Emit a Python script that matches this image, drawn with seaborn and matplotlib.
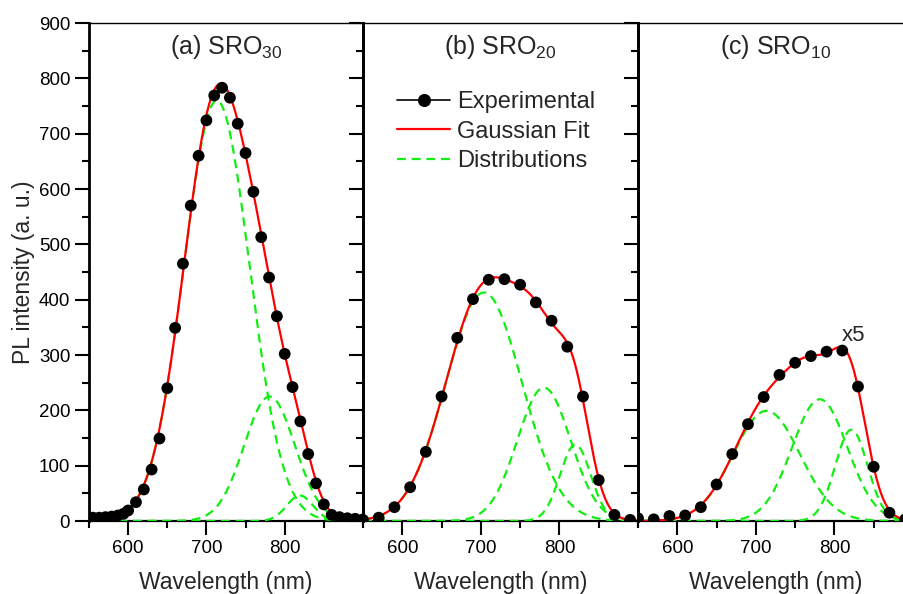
import numpy as np
import pandas as pd
import seaborn as sns
import matplotlib
matplotlib.use("Agg")
import matplotlib.pyplot as plt
from matplotlib.lines import Line2D
from matplotlib.ticker import MultipleLocator, FixedLocator

# ---- measured PL spectra ----
wl_a = [555, 563, 571, 579, 587, 594, 600, 610, 620, 630, 640, 650, 660, 670, 680,
        690, 700, 710, 720, 730, 740, 750, 760, 770, 780, 790, 800, 810, 820, 830,
        840, 850, 860, 870, 880, 890, 900]
pl_a = [6, 6, 7, 8, 10, 13, 19, 34, 57, 93, 149, 240, 349, 465, 570,
        660, 724, 769, 783, 765, 718, 665, 595, 513, 440, 370, 302, 242, 180, 121,
        68, 30, 11, 7, 5, 4, 3]

wl_b = [550, 570, 590, 610, 630, 650, 670, 690, 710, 730, 750, 770, 790, 810, 830, 850, 870, 890]
pl_b = [2, 6, 25, 61, 125, 225, 331, 401, 436, 437, 427, 395, 362, 315, 225, 74, 11, 2]

wl_c = [550, 570, 590, 610, 630, 650, 670, 690, 710, 730, 750, 770, 790, 810, 830, 850, 870, 890]
pl_c = [5, 3, 9, 10, 25, 66, 121, 175, 224, 264, 286, 298, 306, 308, 243, 98, 15, 3]

# ---- Gaussian distributions: centre (nm), peak height (a.u.), sigma (nm) ----
centers_a = [713.2, 780.6, 819.4]
heights_a = [760, 225, 46]
widths_a = [42.0, 32.5, 16.8]

centers_b = [703.9, 780.3, 820.3]
heights_b = [413, 241, 138]
widths_b = [48.4, 33.9, 19.5]

centers_c = [713.6, 781.3, 821.6]
heights_c = [199, 220, 165]
widths_c = [42.5, 35.1, 20.6]

titles = ["(a) SRO$_{30}$", "(b) SRO$_{20}$", "(c) SRO$_{10}$"]
xticks = [600, 700, 800]
legend_labels = ["Experimental", "Gaussian Fit", "Distributions"]


def gaussian(x, c, h, w):
    return h * np.exp(-(x - c) ** 2 / (2 * w ** 2))


sns.set_theme(style="ticks")
plt.rcParams["font.family"] = ["Liberation Sans", "DejaVu Sans"]
plt.rcParams["mathtext.fontset"] = "custom"
plt.rcParams["mathtext.rm"] = "Liberation Sans"
plt.rcParams["mathtext.it"] = "Liberation Sans:italic"
plt.rcParams["mathtext.default"] = "regular"

GREEN = "#11ee11"
RED = "#ff0000"
DASH = (0, (4, 2.6))

fig = plt.figure(figsize=(9.04, 5.94), dpi=100)
W, H = 904.0, 594.0
lefts = [89, 363, 638]
widths_px = [274, 275, 275]
axes = [fig.add_axes([l / W, 1 - 521 / H, w / W, 498 / H]) for l, w in zip(lefts, widths_px)]

panels = [
    (wl_a, pl_a, centers_a, heights_a, widths_a),
    (wl_b, pl_b, centers_b, heights_b, widths_b),
    (wl_c, pl_c, centers_c, heights_c, widths_c),
]

grid = np.linspace(550, 900, 701)
for i, (ax, (wl, pl, cs, hs, ws)) in enumerate(zip(axes, panels)):
    comps = [gaussian(grid, c, h, w) for c, h, w in zip(cs, hs, ws)]
    for comp in comps:
        sns.lineplot(x=grid, y=comp, ax=ax, color=GREEN, lw=1.6,
                     linestyle=DASH, estimator=None, zorder=3)
    sns.lineplot(x=grid, y=np.sum(comps, axis=0), ax=ax, color=RED, lw=1.6,
                 estimator=None, zorder=4)
    sns.scatterplot(x=wl, y=pl, ax=ax, color="black", s=72, edgecolor="none",
                    linewidth=0, zorder=5)

    ax.set_xlim(550, 900)
    ax.set_ylim(0, 900)
    ax.xaxis.set_major_locator(FixedLocator(xticks))
    ax.xaxis.set_minor_locator(MultipleLocator(50))
    ax.yaxis.set_major_locator(MultipleLocator(100))
    ax.yaxis.set_minor_locator(MultipleLocator(50))
    ax.tick_params(which="major", direction="out", length=10, width=1.5,
                   labelsize=13.5, color="black", labelcolor="black")
    ax.tick_params(which="minor", direction="out", length=5, width=1.5, color="black")
    ax.tick_params(axis="x", which="both", pad=4, top=False)
    ax.tick_params(axis="y", which="both", pad=3.5, right=False)
    for side, lw in (("left", 2.0), ("right", 2.0), ("bottom", 1.6), ("top", 1.0)):
        ax.spines[side].set_visible(True)
        ax.spines[side].set_linewidth(lw)
        ax.spines[side].set_color("black")
    if i > 0:
        ax.tick_params(labelleft=False)
    ax.set_ylabel("")
    ax.set_xlabel("Wavelength (nm)", fontsize=16.5)
    ax.xaxis.set_label_coords(0.5, -0.1004)
    ax.text(0.5, 0.952, titles[i], transform=ax.transAxes, ha="center",
            va="center", fontsize=18)
    ax.set_facecolor("none")

axes[0].set_ylabel("PL intensity (a. u.)", fontsize=16.5)
axes[0].yaxis.set_label_coords(-0.197, 0.5)

axes[2].text(824, 336, "x5", fontsize=16, ha="center", va="center")

handles = [
    Line2D([], [], color="black", lw=1.2, marker="o", markersize=8.4),
    Line2D([], [], color=RED, lw=1.6),
    Line2D([], [], color=GREEN, lw=1.6, linestyle=DASH),
]
axes[1].legend(handles, legend_labels,
               loc="upper left", bbox_to_anchor=(0.124, 0.863), frameon=False,
               fontsize=17, handlelength=2.25, handletextpad=0.3,
               labelspacing=0.31, borderpad=0, borderaxespad=0)

fig.savefig("out.png", dpi=100)
